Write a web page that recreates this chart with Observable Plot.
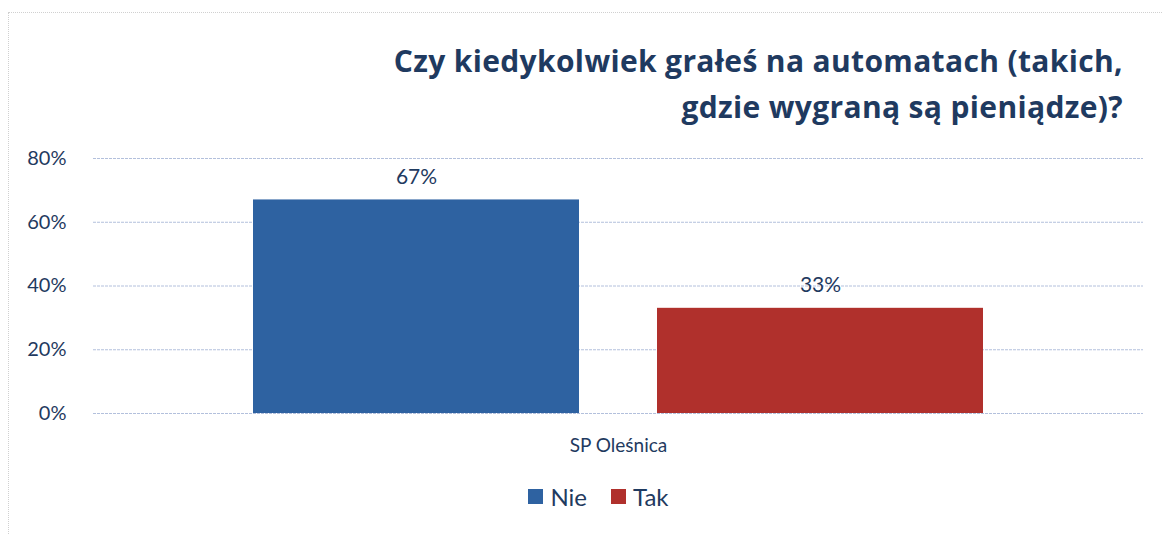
<!DOCTYPE html>
<html>
<head>
<meta charset="utf-8">
<script src="https://cdn.jsdelivr.net/npm/d3@7"></script>
<script src="https://cdn.jsdelivr.net/npm/@observablehq/plot@0.6"></script>
<style>
  html, body { margin: 0; padding: 0; background: #fff; }
  body { width: 1163px; height: 535px; position: relative; overflow: hidden; font-family: Lato, "Open Sans", sans-serif; }
  #frame { position: absolute; left: 8px; top: 12px; width: 1160px; height: 540px; border: 1px dotted #d0d0d0; box-sizing: border-box; }
  #title { position: absolute; top: 38px; right: 40px; text-align: right; font-family: "Open Sans", sans-serif; font-weight: bold; font-size: 30px; letter-spacing: 0.35px; line-height: 46px; color: #1f3a60; white-space: nowrap; }
  #chart { position: absolute; top: 140px; left: 0; }
  #legend { position: absolute; top: 482px; left: 0; width: 1163px; display: flex; justify-content: center; gap: 24px; font-size: 24px; color: #1f3a60; padding-left: 34px; box-sizing: border-box; }
  .item { display: flex; align-items: center; gap: 7px; }
  .sw { width: 15px; height: 15px; display: inline-block; }
</style>
</head>
<body>
<div id="frame"></div>
<div id="title">Czy kiedykolwiek grałeś na automatach (takich,<br>gdzie wygraną są pieniądze)?</div>
<div id="chart"></div>
<div id="legend"></div>
<script>
const groups = ["SP Oleśnica"];
const series = ["Nie", "Tak"];
const values = [0.67, 0.33];
const colors = ["#2e62a1", "#b0302c"];
const yTicks = [0, 0.2, 0.4, 0.6, 0.8];

const data = series.map((s, i) => ({group: groups[0], series: s, value: values[i]}));

const chart = Plot.plot({
  width: 1163,
  height: 320,
  marginLeft: 93,
  marginRight: 20,
  marginTop: 18,
  marginBottom: 47,
  style: {fontFamily: "Lato, 'Open Sans', sans-serif", color: "#1f3a60", background: "transparent", overflow: "visible"},
  fx: {domain: groups, padding: 0, label: null, axis: null},
  x: {domain: series, paddingInner: 0.193, paddingOuter: 0.393, axis: null},
  y: {domain: [0, 0.8], ticks: yTicks, tickFormat: d => Math.round(d * 100) + "%", label: null},
  color: {domain: series, range: colors},
  marks: [
    Plot.ruleY(yTicks, {stroke: "#b3c0dc", strokeWidth: 1, strokeDasharray: "3,1"}),
    Plot.barY(data, {fx: "group", x: "series", y: "value", fill: "series"}),
    Plot.text(data, {fx: "group", x: "series", y: "value", text: d => Math.round(d.value * 100) + "%", dy: -16, lineAnchor: "bottom", fontSize: 21, fill: "#1f3a60"}),
    Plot.text(groups, {fx: d => d, text: d => d, frameAnchor: "bottom", lineAnchor: "middle", dy: 32, fontSize: 19, fill: "#1f3a60"}),
    Plot.axisY({ticks: yTicks, tickFormat: d => Math.round(d * 100) + "%", tickSize: 0, tickPadding: 27, fontSize: 20, label: null})
  ]
});
document.getElementById("chart").appendChild(chart);

const legend = document.getElementById("legend");
series.forEach((s, i) => {
  const item = document.createElement("span");
  item.className = "item";
  const sw = document.createElement("span");
  sw.className = "sw";
  sw.style.background = colors[i];
  item.appendChild(sw);
  item.appendChild(document.createTextNode(s));
  legend.appendChild(item);
});
</script>
</body>
</html>
